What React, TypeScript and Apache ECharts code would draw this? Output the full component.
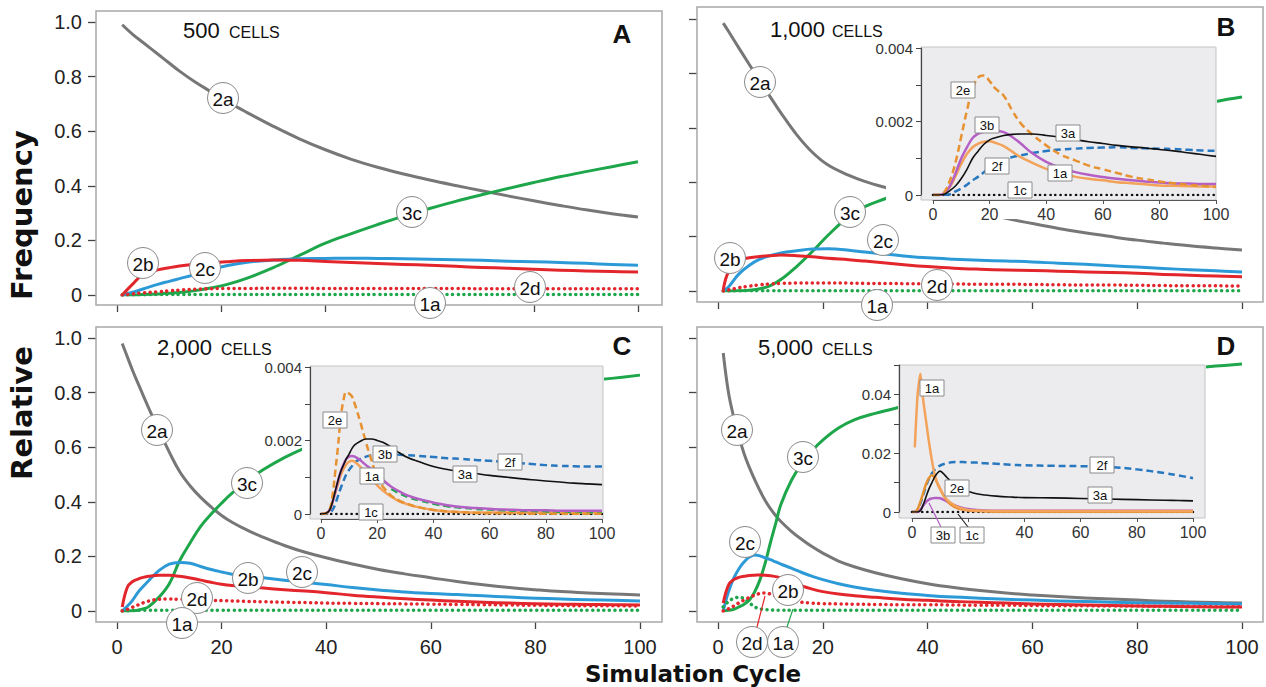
import React, { useEffect, useRef } from "react";
import * as echarts from "echarts";

// ---------------- DATA ----------------
// Panel A (500 cells)
const xA = [1, 3, 5, 8, 10, 12, 15, 18, 21, 25, 30, 35, 40, 45, 50, 55, 60, 65, 70, 75, 80, 85, 90, 95, 100];
const A_2a = [0.99, 0.955, 0.925, 0.88, 0.85, 0.82, 0.78, 0.745, 0.71, 0.668, 0.618, 0.572, 0.532, 0.497, 0.468, 0.443, 0.421, 0.401, 0.382, 0.363, 0.345, 0.328, 0.312, 0.298, 0.286];
const A_3c = [0, 0, 0.002, 0.004, 0.006, 0.009, 0.016, 0.026, 0.038, 0.062, 0.1, 0.145, 0.19, 0.225, 0.258, 0.289, 0.317, 0.343, 0.367, 0.39, 0.412, 0.433, 0.452, 0.47, 0.488];
const A_2b = [0, 0.04, 0.075, 0.093, 0.1, 0.106, 0.113, 0.118, 0.122, 0.126, 0.128, 0.127, 0.123, 0.119, 0.115, 0.112, 0.109, 0.105, 0.101, 0.098, 0.094, 0.091, 0.088, 0.086, 0.084];
const A_2c = [0, 0.01, 0.022, 0.04, 0.05, 0.06, 0.075, 0.092, 0.107, 0.12, 0.128, 0.133, 0.134, 0.135, 0.134, 0.133, 0.131, 0.129, 0.127, 0.124, 0.122, 0.119, 0.116, 0.112, 0.109];
const A_2d = [0, 0.004, 0.008, 0.012, 0.015, 0.018, 0.021, 0.023, 0.024, 0.024, 0.025, 0.025, 0.024, 0.024, 0.024, 0.024, 0.024, 0.024, 0.023, 0.023, 0.023, 0.023, 0.023, 0.023, 0.023];
const A_1a = [0, 0.001, 0.001, 0.002, 0.002, 0.002, 0.002, 0.002, 0.002, 0.002, 0.002, 0.002, 0.002, 0.002, 0.002, 0.002, 0.002, 0.002, 0.002, 0.002, 0.002, 0.002, 0.002, 0.002, 0.002];

// Panel B (1,000 cells)
const xB = [1, 2, 4, 6, 8, 10, 12, 15, 18, 21, 25, 28, 32, 36, 40, 45, 50, 55, 60, 65, 70, 75, 80, 85, 90, 95, 100];
const B_2a = [0.985, 0.955, 0.893, 0.832, 0.772, 0.713, 0.655, 0.575, 0.51, 0.463, 0.425, 0.403, 0.38, 0.36, 0.34, 0.315, 0.29, 0.267, 0.248, 0.23, 0.214, 0.2, 0.187, 0.176, 0.166, 0.158, 0.151];
const B_3c = [0, 0, 0.001, 0.003, 0.008, 0.02, 0.042, 0.09, 0.145, 0.205, 0.275, 0.31, 0.34, 0.37, 0.4, 0.435, 0.47, 0.5, 0.53, 0.56, 0.587, 0.613, 0.637, 0.658, 0.679, 0.697, 0.713];
const B_2b = [0.004, 0.07, 0.112, 0.122, 0.127, 0.13, 0.132, 0.13, 0.126, 0.12, 0.115, 0.11, 0.103, 0.096, 0.09, 0.084, 0.08, 0.077, 0.075, 0.073, 0.07, 0.068, 0.065, 0.061, 0.058, 0.055, 0.052];
const B_2c = [0, 0.015, 0.063, 0.095, 0.117, 0.13, 0.14, 0.148, 0.154, 0.155, 0.15, 0.143, 0.136, 0.128, 0.122, 0.117, 0.113, 0.11, 0.107, 0.102, 0.098, 0.093, 0.088, 0.083, 0.078, 0.074, 0.07];
const B_2d = [0, 0.004, 0.012, 0.018, 0.023, 0.026, 0.028, 0.029, 0.029, 0.029, 0.029, 0.028, 0.028, 0.027, 0.027, 0.026, 0.025, 0.025, 0.024, 0.023, 0.022, 0.022, 0.021, 0.02, 0.019, 0.019, 0.018];
const B_1a = [0, 0, 0.001, 0.001, 0.001, 0.001, 0.001, 0.001, 0.001, 0.001, 0.001, 0.001, 0.001, 0.001, 0.001, 0.001, 0.001, 0.001, 0.001, 0.001, 0.001, 0.001, 0.001, 0.001, 0.001, 0.001, 0.001];

// Panel C (2,000 cells)
const xC = [1, 2, 3, 4, 5, 6, 8, 10, 12, 14, 16, 18, 20, 22, 25, 28, 32, 36, 40, 45, 50, 55, 60, 65, 70, 75, 80, 85, 90, 95, 100];
const C_2a = [0.98, 0.93, 0.88, 0.835, 0.79, 0.746, 0.662, 0.582, 0.51, 0.458, 0.416, 0.381, 0.35, 0.325, 0.295, 0.27, 0.24, 0.215, 0.195, 0.172, 0.152, 0.136, 0.122, 0.108, 0.096, 0.086, 0.078, 0.071, 0.066, 0.062, 0.059];
const C_3c = [0, 0, 0.001, 0.003, 0.008, 0.015, 0.05, 0.1, 0.185, 0.25, 0.31, 0.355, 0.395, 0.432, 0.477, 0.518, 0.562, 0.598, 0.63, 0.665, 0.695, 0.72, 0.745, 0.765, 0.785, 0.8, 0.815, 0.83, 0.843, 0.853, 0.864];
const C_2b = [0.015, 0.088, 0.108, 0.117, 0.123, 0.127, 0.131, 0.131, 0.127, 0.121, 0.113, 0.105, 0.098, 0.093, 0.088, 0.084, 0.078, 0.073, 0.067, 0.058, 0.051, 0.045, 0.04, 0.036, 0.032, 0.029, 0.027, 0.025, 0.024, 0.023, 0.022];
const C_2c = [0, 0.018, 0.04, 0.068, 0.09, 0.11, 0.148, 0.172, 0.178, 0.175, 0.163, 0.152, 0.143, 0.135, 0.128, 0.122, 0.113, 0.105, 0.097, 0.086, 0.077, 0.07, 0.064, 0.06, 0.056, 0.051, 0.047, 0.044, 0.041, 0.039, 0.037];
const C_2d = [0, 0.006, 0.014, 0.022, 0.03, 0.036, 0.043, 0.044, 0.043, 0.042, 0.04, 0.039, 0.038, 0.037, 0.035, 0.034, 0.032, 0.031, 0.029, 0.028, 0.027, 0.026, 0.025, 0.024, 0.023, 0.022, 0.021, 0.02, 0.019, 0.019, 0.018];
const C_1a = [0, 0.001, 0.002, 0.003, 0.003, 0.003, 0.003, 0.003, 0.003, 0.003, 0.003, 0.003, 0.003, 0.003, 0.003, 0.003, 0.003, 0.003, 0.003, 0.003, 0.003, 0.003, 0.003, 0.003, 0.003, 0.003, 0.003, 0.003, 0.003, 0.003, 0.003];

// Panel D (5,000 cells)
const xD = [1, 2, 3, 4, 5, 6, 7, 8, 9, 10, 11, 12, 14, 16, 18, 20, 23, 26, 30, 35, 40, 45, 50, 55, 60, 65, 70, 75, 80, 85, 90, 95, 100];
const D_2a = [0.945, 0.8, 0.71, 0.638, 0.575, 0.525, 0.481, 0.441, 0.405, 0.375, 0.35, 0.328, 0.292, 0.262, 0.235, 0.212, 0.183, 0.162, 0.14, 0.118, 0.1, 0.086, 0.075, 0.066, 0.059, 0.053, 0.048, 0.044, 0.04, 0.036, 0.033, 0.031, 0.029];
const D_3c = [0, 0.003, 0.006, 0.015, 0.025, 0.04, 0.07, 0.114, 0.175, 0.25, 0.32, 0.39, 0.478, 0.54, 0.588, 0.626, 0.67, 0.7, 0.724, 0.748, 0.77, 0.79, 0.805, 0.82, 0.832, 0.845, 0.855, 0.865, 0.873, 0.881, 0.889, 0.897, 0.905];
const D_2c = [0, 0.07, 0.12, 0.155, 0.18, 0.198, 0.205, 0.202, 0.195, 0.188, 0.18, 0.172, 0.157, 0.141, 0.127, 0.115, 0.1, 0.088, 0.076, 0.065, 0.057, 0.051, 0.047, 0.043, 0.04, 0.037, 0.035, 0.032, 0.03, 0.029, 0.028, 0.027, 0.026];
const D_2b = [0.029, 0.095, 0.115, 0.123, 0.127, 0.13, 0.131, 0.132, 0.131, 0.129, 0.126, 0.122, 0.108, 0.092, 0.08, 0.071, 0.062, 0.056, 0.05, 0.043, 0.039, 0.035, 0.032, 0.029, 0.026, 0.024, 0.022, 0.02, 0.018, 0.017, 0.016, 0.015, 0.015];
const D_2d = [0, 0.008, 0.018, 0.03, 0.04, 0.05, 0.058, 0.064, 0.066, 0.062, 0.055, 0.048, 0.038, 0.032, 0.029, 0.027, 0.026, 0.025, 0.024, 0.023, 0.023, 0.022, 0.021, 0.021, 0.02, 0.019, 0.019, 0.018, 0.018, 0.017, 0.017, 0.016, 0.016];
const D_1a = [0.015, 0.035, 0.046, 0.05, 0.045, 0.03, 0.015, 0.008, 0.005, 0.004, 0.003, 0.003, 0.003, 0.003, 0.003, 0.003, 0.003, 0.003, 0.003, 0.003, 0.003, 0.003, 0.003, 0.003, 0.003, 0.003, 0.003, 0.003, 0.003, 0.003, 0.003, 0.003, 0.003];

// Inset B
const xBi = [0, 2, 4, 6, 8, 10, 12, 14, 16, 18, 20, 22, 25, 28, 31, 35, 40, 45, 50, 55, 60, 65, 70, 75, 80, 85, 90, 95, 100];
const Bi_2e = [0, 0, 0.00008, 0.0004, 0.0009, 0.0016, 0.0023, 0.0029, 0.0032, 0.00325, 0.0031, 0.0029, 0.0027, 0.0023, 0.00195, 0.00165, 0.00135, 0.0011, 0.00095, 0.0008, 0.0007, 0.0006, 0.0005, 0.00043, 0.00037, 0.00032, 0.00028, 0.00025, 0.00022];
const Bi_3b = [0, 0, 0.00005, 0.00025, 0.0006, 0.001, 0.0013, 0.00155, 0.00167, 0.00172, 0.00174, 0.00174, 0.00171, 0.00158, 0.0014, 0.00114, 0.0009, 0.00074, 0.00063, 0.00055, 0.00049, 0.00044, 0.0004, 0.00037, 0.00034, 0.00032, 0.00031, 0.0003, 0.0003];
const Bi_1a = [0, 0, 0.00005, 0.00022, 0.00052, 0.00085, 0.00112, 0.0013, 0.0014, 0.00145, 0.00146, 0.00142, 0.00133, 0.00118, 0.00103, 0.00088, 0.00071, 0.00058, 0.0005, 0.00044, 0.0004, 0.00035, 0.00032, 0.00029, 0.00026, 0.00025, 0.00024, 0.00023, 0.00023];
const Bi_3a = [0, 0, 0.00002, 0.00012, 0.00025, 0.00045, 0.0007, 0.001, 0.0012, 0.00138, 0.0015, 0.00156, 0.00162, 0.00165, 0.00166, 0.00166, 0.00162, 0.00157, 0.00151, 0.00145, 0.0014, 0.00135, 0.00131, 0.00128, 0.00124, 0.0012, 0.00115, 0.0011, 0.00105];
const Bi_2f = [0, 0, 0, 0.00002, 0.0001, 0.00018, 0.00028, 0.0004, 0.0005, 0.00062, 0.00074, 0.00083, 0.00094, 0.00103, 0.00108, 0.00114, 0.0012, 0.00124, 0.00126, 0.00128, 0.00129, 0.0013, 0.00128, 0.00127, 0.00126, 0.00125, 0.00123, 0.00121, 0.0012];
const Bi_1c = xBi.map(() => 0);

// Inset C
const xCi = [0, 2, 3, 4, 5, 6, 7, 8, 9, 10, 11, 12, 14, 16, 18, 20, 22, 25, 28, 31, 35, 40, 45, 50, 55, 60, 65, 70, 75, 80, 85, 90, 95, 100];
const Ci_2e = [0, 0.00002, 0.0001, 0.00045, 0.0011, 0.0018, 0.0026, 0.0031, 0.00332, 0.00328, 0.0032, 0.003, 0.0025, 0.00195, 0.00145, 0.001, 0.00075, 0.0005, 0.00036, 0.00027, 0.00018, 0.00011, 0.00007, 0.00005, 0.00003, 0.00002, 0.00002, 0.00002, 0.00001, 0.00001, 0.00001, 0.00001, 0.00001, 0.00001];
const Ci_3a = [0, 0.00003, 0.0001, 0.0003, 0.0006, 0.0009, 0.00115, 0.00133, 0.0015, 0.00163, 0.00178, 0.00188, 0.00198, 0.00204, 0.00204, 0.002, 0.00195, 0.00182, 0.00166, 0.00153, 0.00142, 0.00129, 0.00121, 0.00115, 0.0011, 0.00105, 0.00101, 0.00097, 0.00093, 0.0009, 0.00087, 0.00084, 0.00082, 0.0008];
const Ci_2f = [0, 0, 0.00003, 0.0001, 0.00025, 0.00048, 0.0007, 0.0009, 0.00108, 0.0012, 0.0013, 0.0014, 0.0015, 0.00156, 0.0016, 0.00162, 0.00164, 0.00163, 0.00161, 0.0016, 0.00158, 0.00155, 0.00152, 0.0015, 0.00147, 0.00145, 0.00142, 0.00139, 0.00136, 0.00133, 0.00131, 0.0013, 0.00129, 0.00129];
const Ci_3b = [0, 0.00003, 0.0001, 0.0003, 0.00058, 0.00088, 0.00115, 0.00135, 0.0015, 0.00156, 0.00158, 0.00156, 0.00146, 0.00133, 0.00122, 0.00108, 0.00093, 0.00074, 0.00061, 0.0005, 0.0004, 0.00031, 0.00024, 0.00019, 0.00016, 0.00014, 0.00012, 0.00011, 0.0001, 0.0001, 0.00009, 0.00009, 0.00009, 0.00009];
const Ci_1a = [0, 0.00003, 0.0001, 0.0003, 0.00055, 0.0008, 0.00105, 0.00122, 0.00135, 0.00142, 0.00145, 0.00142, 0.00128, 0.0011, 0.00095, 0.00078, 0.00064, 0.00047, 0.00034, 0.00026, 0.00018, 0.00011, 0.00007, 0.00005, 0.00004, 0.00004, 0.00004, 0.00004, 0.00004, 0.00004, 0.00004, 0.00004, 0.00004, 0.00004];
const xCi_g = [25, 28, 31, 35, 40, 45, 50, 55, 60, 65, 70, 80, 90, 100];
const Ci_g = [0.00068, 0.00056, 0.00046, 0.00037, 0.00028, 0.00021, 0.00017, 0.00014, 0.00012, 0.0001, 0.00009, 0.00007, 0.00006, 0.00005];
const Ci_1c = xCi.map(() => 0);

// Inset D
const xDi = [0, 1, 2, 3, 4, 5, 6, 7, 8, 9, 10, 11, 12, 13, 14, 16, 18, 20, 23, 26, 30, 35, 40, 50, 60, 70, 80, 90, 95, 100];
const Di_1a = [null, 0.022, 0.04, 0.047, 0.038, 0.031, 0.024, 0.018, 0.013, 0.01, 0.008, 0.006, 0.0047, 0.0037, 0.003, 0.0018, 0.0011, 0.0007, 0.0005, 0.0004, 0.0003, 0.0003, 0.0003, 0.0003, 0.0003, 0.0003, 0.0003, 0.0003, 0.0003, 0.0003];
const Di_2f = [0, 0, 0.001, 0.003, 0.0058, 0.0088, 0.0112, 0.013, 0.0143, 0.0152, 0.0158, 0.0162, 0.0165, 0.0167, 0.0169, 0.017, 0.017, 0.0169, 0.0168, 0.0166, 0.0164, 0.0161, 0.0159, 0.0157, 0.0156, 0.0153, 0.0145, 0.0132, 0.0124, 0.0115];
const Di_3a = [0, 0, 0, 0.0005, 0.0025, 0.0052, 0.0078, 0.0098, 0.0118, 0.0132, 0.0139, 0.0132, 0.0122, 0.0112, 0.0103, 0.0088, 0.0077, 0.007, 0.0062, 0.0058, 0.0054, 0.0051, 0.0049, 0.0048, 0.0046, 0.0044, 0.0042, 0.004, 0.0039, 0.0038];
const Di_2e = [0, 0, 0.001, 0.0035, 0.0065, 0.0095, 0.0115, 0.0125, 0.0118, 0.0098, 0.0078, 0.006, 0.0045, 0.0033, 0.0024, 0.0013, 0.0008, 0.0005, 0.0003, 0.0002, 0.0001, 0.0001, 0.0001, 0.0001, 0.0001, 0.0001, 0.0001, 0.0001, 0.0001, 0.0001];
const Di_3b = [0, 0, 0, 0.0008, 0.0022, 0.0034, 0.0042, 0.0046, 0.0048, 0.0048, 0.0047, 0.0043, 0.0038, 0.0033, 0.0028, 0.002, 0.0014, 0.001, 0.0007, 0.0005, 0.0004, 0.0004, 0.0004, 0.0004, 0.0004, 0.0004, 0.0004, 0.0004, 0.0004, 0.0004];
const Di_1c = xDi.map(() => 0);

const titleNumbers = ["500", "1,000", "2,000", "5,000"];
const panelLetters = ["A", "B", "C", "D"];

// ---------------- STYLE / LAYOUT ----------------
const FONT = '"Liberation Sans", Arial, Helvetica, sans-serif';
const GRAY = "#777777";
const RED = "#e2262c";
const BLUE = "#2d9ad8";
const GREEN = "#1ea64b";
const ORANGE = "#f3a25a";
const ORANGE_D = "#e69232";
const PURPLE = "#b45fc4";
const BLUE_D = "#2878c0";

const pts = (xs: number[], ys: (number | null)[]) => xs.map((x, i) => [x, ys[i]]);

type Lay = { left: number; top: number; width: number; height: number; yOff: number; xOff: number };
const mainLay: Lay[] = [
  { left: 117, top: 22, width: 521, height: 273, yOff: 21, xOff: 10 },
  { left: 718, top: 19, width: 524, height: 272, yOff: 21, xOff: 11 },
  { left: 117, top: 338, width: 523, height: 273, yOff: 21, xOff: 11 },
  { left: 718, top: 338, width: 524, height: 273, yOff: 21, xOff: 11 },
];
const insetLay: Lay[] = [
  { left: 933, top: 48, width: 283, height: 147, yOff: 12, xOff: 5 },
  { left: 321, top: 367, width: 281, height: 147, yOff: 11, xOff: 5 },
  { left: 912, top: 365, width: 281, height: 147, yOff: 13, xOff: 6 },
];
const frames = [
  [96, 11, 566, 294],
  [697, 7, 566, 295],
  [96, 327, 566, 295],
  [697, 327, 566, 295],
];
const whiteBoxes = [
  [886, 40, 331, 179],
  [302, 358, 302, 188],
  [898, 355, 308, 190],
];
const grayBoxes = [
  [921, 47, 295, 153],
  [310, 366, 293, 153],
  [899, 365, 306, 153],
];

function line(name: string, gi: number, xs: number[], ys: (number | null)[], color: string, width: number, type: any, z: number, cap = "butt", smooth = 0.4) {
  return {
    type: "line",
    name,
    xAxisIndex: gi,
    yAxisIndex: gi,
    data: pts(xs, ys),
    symbol: "none",
    showSymbol: false,
    smooth,
    silent: true,
    z,
    lineStyle: { color, width, type, cap, join: "round" },
  };
}
const DOT = [0.1, 5.5];
const DASH = [7, 4];

function mainSeries(gi: number, xs: number[], s2a: number[], s3c: number[], s2c: number[], s2b: number[], s1a: number[], s2d: number[]) {
  return [
    line("2a", gi, xs, s2a, GRAY, 3, "solid", 2),
    line("3c", gi, xs, s3c, GREEN, 3, "solid", 2),
    line("2c", gi, xs, s2c, BLUE, 3, "solid", 2),
    line("2b", gi, xs, s2b, RED, 3, "solid", 2),
    line("1a", gi, xs, s1a, GREEN, 3.5, DOT, 2, "round"),
    line("2d", gi, xs, s2d, RED, 3.5, DOT, 2, "round"),
  ];
}

function circleLabel(t: string, x: number, y: number) {
  return {
    type: "group",
    x,
    y,
    z: 20,
    children: [
      { type: "circle", z: 20, shape: { cx: 0, cy: 0, r: 15.5 }, style: { fill: "#fff", stroke: "#8a8a8a", lineWidth: 1 } },
      { type: "text", z: 21, style: { text: t, x: 0, y: 1, align: "center", verticalAlign: "middle", textAlign: "center", textVerticalAlign: "middle", font: `19px ${FONT}`, fill: "#111" } },
    ],
  };
}
function boxLabel(t: string, x: number, y: number) {
  return {
    type: "group",
    x,
    y,
    z: 30,
    children: [
      { type: "rect", z: 30, shape: { x: -12, y: -8, width: 24, height: 16 }, style: { fill: "#fff", stroke: "#8a8a8a", lineWidth: 1 } },
      { type: "text", z: 31, style: { text: t, x: 0, y: 0.5, align: "center", verticalAlign: "middle", textAlign: "center", textVerticalAlign: "middle", font: `13px ${FONT}`, fill: "#111" } },
    ],
  };
}
function txt(t: string, x: number, y: number, font: string, align = "left", z = 25, rotation = 0) {
  return {
    type: "text",
    x,
    y,
    z,
    rotation,
    style: { text: t, x: 0, y: 0, align, verticalAlign: "middle", textAlign: align, textVerticalAlign: "middle", font, fill: "#111" },
  };
}
function seg(x1: number, y1: number, x2: number, y2: number, color: string, w = 1.2) {
  return { type: "line", z: 29, shape: { x1, y1, x2, y2 }, style: { stroke: color, lineWidth: w } };
}

function buildOption() {
  const grid: any[] = [];
  const xAxis: any[] = [];
  const yAxis: any[] = [];
  mainLay.forEach((l, i) => {
    grid.push({ left: l.left, top: l.top, width: l.width, height: l.height });
    xAxis.push({
      type: "value", gridIndex: i, min: 0, max: 100, interval: 20, offset: l.xOff,
      axisLine: { show: false, onZero: false }, splitLine: { show: false },
      axisTick: { show: true, length: 7, lineStyle: { color: "#444", width: 1.3 } },
      axisLabel: { show: i >= 2, fontSize: 20, color: "#222", fontFamily: FONT, margin: 15, formatter: (v: number) => String(v) },
    });
    yAxis.push({
      type: "value", gridIndex: i, min: 0, max: 1, interval: 0.2, offset: l.yOff,
      axisLine: { show: false, onZero: false }, splitLine: { show: false },
      axisTick: { show: true, length: 8, lineStyle: { color: "#444", width: 1.3 } },
      axisLabel: { show: i % 2 === 0, fontSize: 20, color: "#222", fontFamily: FONT, margin: 14, formatter: (v: number) => (v === 0 ? "0" : v.toFixed(1)) },
    });
  });
  const insetMax = [0.004, 0.004, 0.05];
  const insetInt = [0.001, 0.001, 0.01];
  insetLay.forEach((l, k) => {
    const gi = 4 + k;
    grid.push({ left: l.left, top: l.top, width: l.width, height: l.height });
    xAxis.push({
      type: "value", gridIndex: gi, min: 0, max: 100, interval: 20, offset: l.xOff, z: 6,
      axisLine: { show: true, onZero: false, lineStyle: { color: "#555", width: 1 } }, splitLine: { show: false },
      axisTick: { show: true, length: 4, lineStyle: { color: "#555" } },
      axisLabel: { fontSize: 16, color: "#333", fontFamily: FONT, margin: 6, formatter: (v: number) => (k === 2 && v === 20 ? "" : String(v)) },
    });
    const dec = k === 2 ? 2 : 3;
    const unit = insetInt[k];
    yAxis.push({
      type: "value", gridIndex: gi, min: 0, max: insetMax[k], interval: unit, offset: l.yOff, z: 6,
      axisLine: { show: true, onZero: false, lineStyle: { color: "#444", width: 1.2 } }, splitLine: { show: false },
      axisTick: { show: true, length: 5, lineStyle: { color: "#444" } },
      axisLabel: {
        fontSize: 15, color: "#333", fontFamily: FONT, margin: 8,
        formatter: (v: number) => {
          const n = Math.round(v / unit);
          if (n % 2 !== 0 || n > 4) return "";
          return n === 0 ? "0" : v.toFixed(dec);
        },
      },
    });
  });

  const series: any[] = [
    ...mainSeries(0, xA, A_2a, A_3c, A_2c, A_2b, A_1a, A_2d),
    ...mainSeries(1, xB, B_2a, B_3c, B_2c, B_2b, B_1a, B_2d),
    ...mainSeries(2, xC, C_2a, C_3c, C_2c, C_2b, C_1a, C_2d),
    ...mainSeries(3, xD, D_2a, D_3c, D_2c, D_2b, D_1a, D_2d),
    // inset B
    line("1c", 4, xBi, Bi_1c, "#111", 2.6, [0.1, 5], 7, "round"),
    line("2f", 4, xBi, Bi_2f, BLUE_D, 2.5, DASH, 7),
    line("1a", 4, xBi, Bi_1a, ORANGE, 2.5, "solid", 7),
    line("3b", 4, xBi, Bi_3b, PURPLE, 2.5, "solid", 7),
    line("2e", 4, xBi, Bi_2e, ORANGE_D, 2.5, DASH, 7),
    line("3a", 4, xBi, Bi_3a, "#111", 1.6, "solid", 8),
    // inset C
    line("1c", 5, xCi, Ci_1c, "#111", 2.6, [0.1, 5], 7, "round"),
    line("2f", 5, xCi, Ci_2f, BLUE_D, 2.5, DASH, 7),
    line("1a", 5, xCi, Ci_1a, ORANGE, 2.5, "solid", 7),
    line("2g", 5, xCi_g, Ci_g, GREEN, 2.5, DASH, 7),
    line("3b", 5, xCi, Ci_3b, PURPLE, 2.5, "solid", 7),
    line("2e", 5, xCi, Ci_2e, ORANGE_D, 2.5, DASH, 7),
    line("3a", 5, xCi, Ci_3a, "#111", 1.6, "solid", 8),
    // inset D
    line("1c", 6, xDi, Di_1c, "#111", 2.6, [0.1, 5], 7, "round"),
    line("2f", 6, xDi, Di_2f, BLUE_D, 2.5, DASH, 7),
    line("3b", 6, xDi, Di_3b, PURPLE, 2.5, "solid", 7),
    line("2e", 6, xDi, Di_2e, ORANGE_D, 2.5, "solid", 7),
    line("1a", 6, xDi, Di_1a, ORANGE, 2.5, "solid", 7, "butt", 0.2),
    line("3a", 6, xDi, Di_3a, "#111", 1.6, "solid", 8),
  ];

  const els: any[] = [];
  frames.forEach(([x, y, w, h]) => els.push({ type: "rect", z: 1, shape: { x, y, width: w, height: h }, style: { fill: "none", stroke: "#a8a8a8", lineWidth: 1.5 } }));
  whiteBoxes.forEach(([x, y, w, h]) => els.push({ type: "rect", z: 4, shape: { x, y, width: w, height: h }, style: { fill: "#fff", stroke: "none" } }));
  grayBoxes.forEach(([x, y, w, h]) => els.push({ type: "rect", z: 5, shape: { x, y, width: w, height: h }, style: { fill: "#ececef", stroke: "#c4c4c4", lineWidth: 1 } }));

  // titles
  const titlePos = [[183, 30], [770, 29], [157, 347], [758, 347]];
  const cellsX = [229, 832, 221, 822];
  titlePos.forEach(([x, y], i) => {
    els.push(txt(titleNumbers[i], x, y, `22px ${FONT}`));
    els.push(txt("CELLS", cellsX[i], y + 2, `16px ${FONT}`));
  });
  const letterPos = [[622, 34], [1226, 27], [622, 346], [1226, 346]];
  letterPos.forEach(([x, y], i) => els.push(txt(panelLetters[i], x, y, `bold 26px ${FONT}`, "center")));

  // axis titles
  els.push(txt("Frequency", 22, 215, `bold 29px "DejaVu Sans", sans-serif`, "center", 25, Math.PI / 2));
  els.push(txt("Relative", 22, 413, `bold 29px "DejaVu Sans", sans-serif`, "center", 25, Math.PI / 2));
  els.push(txt("Simulation Cycle", 693, 674, `bold 23px "DejaVu Sans", sans-serif`, "center"));

  // leader lines
  els.push(seg(757, 627, 765, 596, RED));
  els.push(seg(787, 627, 793, 609, GREEN));
  els.push(seg(941, 527, 929, 503, PURPLE));
  els.push(seg(968, 527, 958, 514, "#222"));

  // circle labels
  const circ: [string, number, number][] = [
    ["2a", 223, 98], ["2b", 143, 263], ["2c", 205, 268], ["3c", 412, 212], ["2d", 530, 287], ["1a", 430, 303],
    ["2a", 760, 82], ["3c", 850, 212], ["2c", 883, 240], ["2b", 730, 258], ["2d", 937, 285], ["1a", 877, 305],
    ["2a", 157, 430], ["3c", 247, 483], ["2b", 248, 578], ["2c", 302, 572], ["2d", 197, 598], ["1a", 182, 623],
    ["2a", 737, 430], ["3c", 803, 457], ["2c", 745, 542], ["2b", 788, 590], ["2d", 752, 642], ["1a", 783, 642],
  ];
  circ.forEach(([t, x, y]) => els.push(circleLabel(t, x, y)));

  const boxes: [string, number, number][] = [
    ["2e", 963, 90], ["3b", 987, 125], ["3a", 1068, 133], ["2f", 997, 166], ["1a", 1060, 173], ["1c", 1020, 190],
    ["2e", 335, 420], ["3b", 385, 454], ["1a", 372, 476], ["2f", 510, 462], ["3a", 465, 474], ["1c", 371, 512],
    ["1a", 932, 388], ["2f", 1102, 465], ["2e", 957, 488], ["3a", 1100, 495], ["3b", 943, 535], ["1c", 972, 535],
  ];
  boxes.forEach(([t, x, y]) => els.push(boxLabel(t, x, y)));

  return {
    animation: false,
    backgroundColor: "#fff",
    grid,
    xAxis,
    yAxis,
    series,
    graphic: { elements: els },
  };
}

export default function App() {
  const ref = useRef<HTMLDivElement>(null);
  useEffect(() => {
    if (!ref.current) return;
    const chart = echarts.init(ref.current, undefined, { renderer: "svg" });
    chart.setOption(buildOption() as any);
    return () => chart.dispose();
  }, []);
  return <div ref={ref} style={{ position: "fixed", left: 0, top: 0, width: 1266, height: 687, background: "#fff" }} />;
}
